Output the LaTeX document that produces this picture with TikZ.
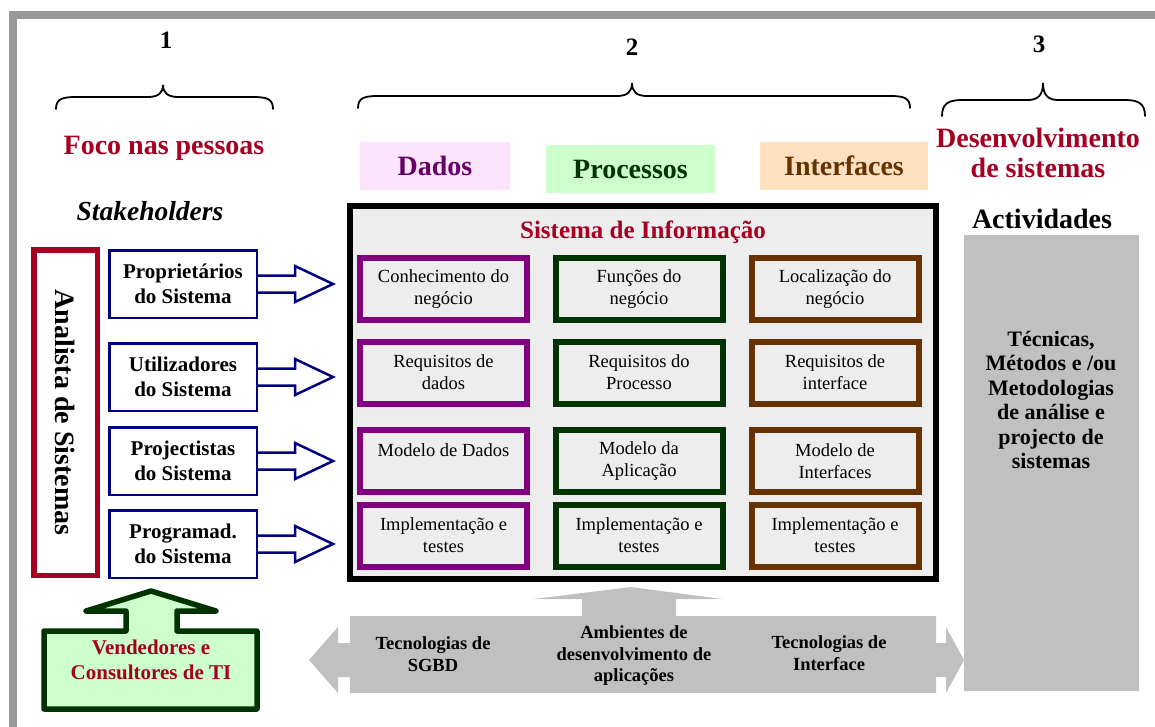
\documentclass[tikz,border=0pt]{standalone}
\usepackage{fontspec}
\setmainfont{Liberation Serif}
\usetikzlibrary{calc}

\definecolor{deepred}{RGB}{165,0,33}
\definecolor{navyb}{RGB}{0,0,128}
\definecolor{purp}{RGB}{128,0,128}
\definecolor{dadosc}{RGB}{102,0,102}
\definecolor{dgreen}{RGB}{0,51,0}
\definecolor{brownc}{RGB}{102,51,0}
\definecolor{pinkbg}{RGB}{252,228,252}
\definecolor{greenbg}{RGB}{204,255,204}
\definecolor{peachbg}{RGB}{253,224,192}
\definecolor{panel}{RGB}{237,237,237}
\definecolor{silver}{RGB}{192,192,192}
\definecolor{framegray}{RGB}{153,153,153}

\newcommand{\fsz}[2]{\fontsize{#1}{#2}\selectfont}

\begin{document}
\begin{tikzpicture}[x=1pt,y=-1pt,
  brace/.style={line width=1.8, line cap=round},
  numlabel/.style={anchor=base, font=\bfseries\fsz{25}{30}},
  heading/.style={font=\bfseries\fsz{28}{30}, text=deepred, align=center},
  colhead/.style={minimum width=#1, minimum height=48, font=\bfseries\fsz{28}{33}},
  stkbox/.style={draw=navyb, line width=2.5, fill=white, minimum width=147.5,
    minimum height=67.5, align=center, font=\bfseries\fsz{21}{25}},
  stkarrow/.style={draw=navyb, line width=2.5, fill=white, line join=miter},
  infobox/.style={draw=#1, line width=6, minimum width=167, minimum height=62,
    align=center, font=\fsz{18.5}{22}},
  techlabel/.style={align=center, font=\bfseries\fsz{18.5}{21.5}}
]
\useasboundingbox (0,0) rectangle (1155,726);
\clip (0,0) rectangle (1155,726);

% page frame
\draw[framegray, line width=8] (13,15) rectangle (1200,800);

% section numbers and braces
\node[numlabel] (n1) at (166,48) {1};
\node[numlabel] (n2) at (632,55) {2};
\node[numlabel] (n3) at (1039,52) {3};

\draw[brace] (56,109) .. controls (56,99) and (62,97) .. (76,97) -- (148,97)
  .. controls (158,97) and (163,93) .. (163,85)
  .. controls (163,93) and (168,97) .. (178,97) -- (253,97)
  .. controls (267,97) and (273,99) .. (273,109);
\draw[brace] (358,108) .. controls (358,98) and (364,96) .. (378,96) -- (617,96)
  .. controls (627,96) and (632,92) .. (632,83)
  .. controls (632,92) and (637,96) .. (647,96) -- (890,96)
  .. controls (904,96) and (910,98) .. (910,108);
\draw[brace] (942,116) .. controls (942,104) and (948,100) .. (962,100) -- (1028,100)
  .. controls (1038,100) and (1043,95) .. (1043,83)
  .. controls (1043,95) and (1048,100) .. (1058,100) -- (1125,100)
  .. controls (1139,100) and (1145,104) .. (1145,116);

% section headings
\node[heading, anchor=base] (foco) at (164,154) {Foco nas pessoas};
\node[anchor=base, font=\bfseries\itshape\fsz{27.5}{30}] (stake) at (150,220) {Stakeholders};
\node[heading] (desenv) at (1038,152.5) {Desenvolvimento\\de sistemas};
\node[anchor=base, font=\bfseries\fsz{28}{30}] (activ) at (1042,228) {Actividades};

% column headers
\node[colhead=150, fill=pinkbg, text=dadosc] (hdados) at (435,166) {Dados};
\node[colhead=169, fill=greenbg, text=dgreen] (hproc) at (630.5,169) {Processos};
\node[colhead=168, fill=peachbg, text=brownc] (hint) at (844,166) {Interfaces};

% systems analyst
\node[draw=deepred, line width=5.5, rotate=-90, minimum width=325.5, minimum height=63.5,
  font=\bfseries\fsz{28}{30}] (analista) at (65.5,412.5) {Analista de Sistemas};

% stakeholders
\node[stkbox] (s1) at (183,284) {Proprietários\\do Sistema};
\node[stkbox] (s2) at (183,377) {Utilizadores\\do Sistema};
\node[stkbox] (s3) at (183,461) {Projectistas\\do Sistema};
\node[stkbox] (s4) at (183,544) {Programad.\\do Sistema};

% information system panel
\node[draw=black, line width=6, fill=panel, minimum width=586, minimum height=373] (si) at (643,392.5) {};
\node[anchor=base, font=\bfseries\fsz{25}{30}, text=deepred] (sititle) at (643,238) {Sistema de Informação};

\node[infobox=purp] (d1) at (443.5,289) {Conhecimento do\\negócio};
\node[infobox=purp] (d2) at (443.5,372.5) {Requisitos de\\dados};
\node[infobox=purp] (d3) at (443.5,461) {Modelo de Dados\\\mbox{}};
\node[infobox=purp] (d4) at (443.5,535.5) {Implementação e\\testes};

\node[infobox=dgreen] (p1) at (639,289) {Funções do\\negócio};
\node[infobox=dgreen] (p2) at (639,372.5) {Requisitos do\\Processo};
\node[infobox=dgreen] (p3) at (639,461) {Modelo da\\Aplicação};
\node[infobox=dgreen] (p4) at (639,535.5) {Implementação e\\testes};

\node[infobox=brownc] (i1) at (835,289) {Localização do\\negócio};
\node[infobox=brownc] (i2) at (835,372.5) {Requisitos de\\interface};
\node[infobox=brownc] (i3) at (835,461) {Modelo de\\Interfaces};
\node[infobox=brownc] (i4) at (835,535.5) {Implementação e\\testes};

% block arrows from the stakeholders into the panel
\foreach \s in {s1,s2,s3,s4} {
  \draw[stkarrow] ($(\s.east)+(0,-8.5)$) -- ($(\s.east)+(37,-8.5)$) -- ($(\s.east)+(37,-18)$)
    -- ($(\s.east)+(75,0)$) -- ($(\s.east)+(37,18)$) -- ($(\s.east)+(37,8.5)$)
    -- ($(\s.east)+(0,8.5)$);
}

% activities column
\node[fill=silver, minimum width=175, minimum height=456] (tec) at (1051.5,463) {};
\node[align=center, font=\bfseries\fsz{22}{24.5}] (teclabel) at (1051,400)
  {Técnicas,\\Métodos e /ou\\Metodologias\\de análise e\\projecto de\\sistemas};

% technologies: double arrow with upward branch
\fill[silver] (309,660) -- (338,627) -- (338,643) -- (350,643) -- (350,616)
  -- (582,616) -- (582,599) -- (534,599) -- (631,587) -- (722,599) -- (676,599)
  -- (676,616) -- (936,616) -- (936,643) -- (946,643) -- (946,627) -- (964,660)
  -- (946,693) -- (946,677) -- (936,677) -- (936,693) -- (350,693) -- (350,677)
  -- (338,677) -- (338,693) -- cycle;
\node[techlabel] (sgbd) at (433,654) {Tecnologias de\\SGBD};
\node[techlabel] (amb) at (634,656) {Ambientes de\\desenvolvimento de\\aplicações};
\node[techlabel] (tint) at (829,653) {Tecnologias de\\Interface};

% vendors and consultants
\draw[draw=dgreen, fill=greenbg, line width=5.5, line join=round]
  (44,631) -- (126,631) -- (126,611) -- (86,611) -- (151,591) -- (216,611)
  -- (177,611) -- (177,631) -- (257,631) -- (257,709) -- (44,709) -- cycle;
\node[align=center, text=deepred, font=\bfseries\fsz{21}{25}] (vend) at (151,660)
  {Vendedores e\\Consultores de TI};
\end{tikzpicture}
\end{document}
